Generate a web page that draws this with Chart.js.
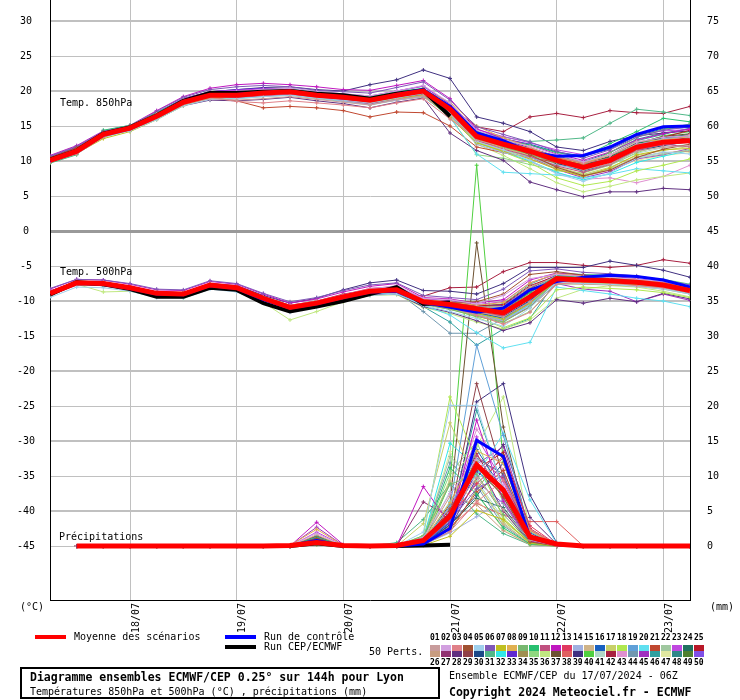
<!DOCTYPE html>
<html>
<head>
<meta charset="utf-8">
<script src="https://cdn.jsdelivr.net/npm/chart.js@4.4.1/dist/chart.umd.min.js"></script>
<style>
body { margin: 0; background: #fff; }
#wrap { position: relative; width: 740px; height: 700px; font-family: 'DejaVu Sans Mono', monospace; color: #000; overflow: hidden; }
#wrap canvas { position: absolute; left: 0; top: 0; }
.t { position: absolute; white-space: nowrap; font-size: 10px; line-height: 12px; }
.b { font-weight: bold; font-size: 11.5px; line-height: 14px; }
.bar { position: absolute; height: 4px; width: 31px; }
.sq { position: absolute; width: 10px; height: 6px; }
.num { position: absolute; font-size: 8px; line-height: 8px; font-weight: bold; }
#box { position: absolute; left: 20px; top: 667px; width: 420px; height: 32px; border: 2px solid #000; box-sizing: border-box; }
</style>
</head>
<body>
<div id="wrap">
  <canvas id="chart" width="740" height="700"></canvas>
  <div class="t" style="left:60px;top:97px">Temp. 850hPa</div>
  <div class="t" style="left:60px;top:266px">Temp. 500hPa</div>
  <div class="t" style="left:59px;top:531px">Précipitations</div>
  <div class="t" style="left:20px;top:601px">(°C)</div>
  <div class="t" style="left:710px;top:601px">(mm)</div>

  <div class="bar" style="left:35px;top:635px;background:#ff0000"></div>
  <div class="t" style="left:74px;top:631px">Moyenne des scénarios</div>
  <div class="bar" style="left:225px;top:635px;background:#0000ff"></div>
  <div class="t" style="left:264px;top:631px">Run de contrôle</div>
  <div class="bar" style="left:225px;top:645px;background:#000"></div>
  <div class="t" style="left:264px;top:641px">Run CEP/ECMWF</div>
  <div class="t" style="left:369px;top:646px">50 Perts.</div>
  <div id="perts"></div>

  <div id="box"></div>
  <div class="t b" style="left:30px;top:670px">Diagramme ensembles ECMWF/CEP 0.25° sur 144h pour Lyon</div>
  <div class="t" style="left:30px;top:686px">Températures 850hPa et 500hPa (°C) , précipitations (mm)</div>
  <div class="t" style="left:449px;top:670px">Ensemble ECMWF/CEP du 17/07/2024 - 06Z</div>
  <div class="t b" style="left:449px;top:685px">Copyright 2024 Meteociel.fr - ECMWF</div>
</div>
<script>
// hours since 17/07 06Z
const hours = [0, 6, 12, 18, 24, 30, 36, 42, 48, 54, 60, 66, 72, 78, 84, 90, 96, 102, 108, 114, 120, 126, 132, 138, 144]
const dayTicks = [18, 42, 66, 90, 114, 138]
const dayLabels = ['18/07', '19/07', '20/07', '21/07', '22/07', '23/07']
const leftTicks = [30, 25, 20, 15, 10, 5, 0, -5, -10, -15, -20, -25, -30, -35, -40, -45]
const rightTicks = [75, 70, 65, 60, 55, 50, 45, 40, 35, 30, 25, 20, 15, 10, 5, 0]

// moyenne / controle / operationnel
const meanT850 = [10.1, 11.4, 13.8, 14.7, 16.4, 18.4, 19.4, 19.4, 19.7, 19.9, 19.4, 19.1, 18.7, 19.4, 20.0, 17.4, 13.5, 12.4, 11.4, 10.1, 9.1, 10.1, 12.0, 12.7, 12.9]
const meanT500 = [-8.9, -7.4, -7.5, -8.1, -8.9, -9.0, -7.7, -8.1, -9.6, -10.9, -10.3, -9.4, -8.6, -8.4, -10.1, -10.5, -11.1, -11.7, -9.4, -6.8, -7.0, -7.1, -7.3, -7.7, -8.5]
const meanPrecip = [null, 0, 0, 0, 0, 0, 0, 0, 0, 0.1, 0.5, 0.1, 0, 0.1, 0.8, 4.3, 11.6, 8.0, 1.3, 0.3, 0, 0, 0, 0, 0]
const ctrlT850 = [10.0, 11.3, 13.7, 14.6, 16.4, 18.5, 19.4, 19.5, 19.8, 20.0, 19.4, 19.0, 18.7, 19.5, 20.2, 17.8, 14.0, 12.9, 11.3, 10.7, 10.8, 12.0, 13.8, 14.9, 15.0]
const ctrlT500 = [-8.8, -7.4, -7.6, -8.2, -9.0, -9.1, -7.8, -8.2, -9.8, -11.0, -10.4, -9.5, -8.7, -8.6, -10.2, -10.9, -11.6, -11.0, -8.4, -7.2, -6.6, -6.3, -6.5, -7.0, -8.0]
const ctrlPrecip = [null, 0, 0, 0, 0, 0, 0, 0, 0, 0.1, 0.8, 0, 0, 0, 0.3, 2.5, 15.1, 12.8, 1.2, 0.2, 0, 0, 0, 0, 0]
const operT850 = [10.2, 11.5, 13.9, 14.8, 16.5, 18.6, 19.7, 19.7, 19.9, 20.0, 19.6, 19.4, 18.9, 19.6, 20.1, 16.4]
const operT500 = [-9.1, -7.3, -7.6, -8.3, -9.4, -9.4, -8.1, -8.4, -10.3, -11.5, -10.8, -10.0, -9.0, -8.0, -10.4, -10.2]
const operPrecip = [null, 0, 0, 0, 0, 0, 0, 0, 0, 0, 0.4, 0, 0, 0, 0.1, 0.2]

const memberColors = [
  '#c89c9c', '#d2a0e0', '#e08088', '#a05030', '#a0d0ec', '#8058b8', '#c0c020', '#e0b050', '#78b870', '#28c070',
  '#c05080', '#c018c0', '#e03860', '#a0b0e0', '#d0b488', '#1860c0', '#c8d068', '#b0e850', '#60a0d8', '#60e0f0',
  '#c04830', '#a0c8a0', '#c048e0', '#207060', '#b81828', '#c89c80', '#903070', '#603080', '#904048', '#1c4888',
  '#50b888', '#30e8e8', '#6028d0', '#a09050', '#90d880', '#c0e880', '#6c5030', '#e06060', '#403080', '#50d040',
  '#b0d8c8', '#a82040', '#e090d0', '#7098b0', '#a030c0', '#30a0a0', '#e0e8a0', '#308888', '#508030', '#8050e8'
]

// 50 perturbations, T850
const membersT850 = [
  [10.3, 11.6, 13.6, 14.5, 16.2, 18.1, 18.9, 18.7, 18.9, 19.2, 18.8, 18.4, 18.0, 18.8, 19.3, 16.6, 13.0, 12.1, 11.2, 9.9, 8.7, 9.6, 11.4, 12.0, 12.2],
  [10.0, 11.3, 13.9, 14.9, 16.7, 18.8, 19.8, 19.9, 20.2, 20.4, 19.9, 19.6, 19.3, 20.0, 20.8, 18.3, 14.4, 13.0, 12.1, 10.9, 9.9, 10.9, 12.7, 13.4, 13.6],
  [9.8, 11.0, 13.4, 14.6, 16.6, 18.6, 19.1, 18.5, 18.3, 18.6, 18.3, 18.0, 17.6, 18.3, 18.9, 16.0, 13.2, 12.6, 11.8, 10.6, 9.7, 10.4, 12.0, 12.6, 13.8],
  [10.5, 11.9, 14.1, 15.0, 16.8, 18.7, 19.6, 19.6, 19.9, 20.0, 19.6, 19.3, 19.0, 19.7, 20.3, 17.9, 13.9, 12.5, 10.9, 9.1, 7.9, 8.7, 10.5, 11.7, 12.4],
  [10.2, 11.5, 13.6, 14.3, 15.9, 17.9, 18.8, 18.9, 19.2, 19.4, 19.0, 18.7, 18.3, 19.0, 19.7, 16.8, 12.8, 11.6, 10.1, 8.2, 7.1, 8.3, 10.4, 11.3, 11.0],
  [10.7, 12.1, 14.2, 15.0, 17.1, 19.1, 20.2, 20.6, 20.8, 20.6, 20.1, 19.9, 19.7, 20.5, 21.3, 18.7, 14.9, 13.8, 12.7, 11.4, 10.4, 11.6, 13.4, 14.4, 14.9],
  [9.8, 11.1, 13.2, 14.2, 15.9, 17.9, 19.0, 19.3, 19.6, 19.8, 19.3, 19.0, 18.4, 18.9, 19.4, 16.2, 12.6, 11.4, 10.3, 8.8, 7.8, 9.0, 10.9, 11.6, 11.8],
  [10.1, 11.4, 13.8, 14.7, 16.3, 18.5, 19.3, 19.4, 19.7, 19.8, 19.3, 18.9, 18.8, 19.5, 20.2, 18.4, 15.0, 13.3, 12.0, 10.4, 9.6, 10.9, 12.8, 13.0, 13.5],
  [10.0, 11.3, 13.9, 14.9, 16.6, 18.6, 19.6, 19.6, 19.9, 20.1, 19.5, 19.2, 18.9, 19.6, 20.1, 17.2, 13.4, 12.0, 11.0, 9.8, 9.4, 11.2, 13.4, 14.5, 15.3],
  [9.7, 10.9, 14.4, 15.1, 16.9, 18.8, 19.7, 19.8, 20.0, 20.3, 19.9, 19.5, 19.2, 19.9, 20.4, 17.6, 13.8, 12.9, 12.3, 11.2, 10.6, 12.5, 14.2, 16.1, 15.6],
  [10.4, 11.7, 13.9, 14.6, 16.4, 18.3, 19.2, 19.1, 19.3, 19.5, 19.1, 18.7, 18.2, 18.9, 19.5, 16.9, 12.9, 11.7, 10.7, 9.3, 8.4, 9.5, 11.5, 12.4, 12.0],
  [10.8, 12.2, 14.3, 15.1, 17.2, 19.2, 20.4, 20.9, 21.1, 20.9, 20.6, 20.2, 20.1, 20.8, 21.5, 18.9, 14.6, 13.2, 12.3, 11.0, 10.1, 11.3, 13.0, 13.9, 14.6],
  [10.2, 11.6, 14.0, 14.8, 16.5, 18.4, 19.3, 19.2, 19.6, 19.7, 19.2, 18.9, 18.5, 19.3, 19.9, 17.4, 13.6, 12.5, 11.6, 10.2, 9.0, 10.0, 11.8, 12.3, 12.7],
  [9.9, 11.2, 13.5, 14.4, 16.1, 18.1, 19.2, 19.1, 19.4, 19.6, 19.1, 18.6, 18.1, 18.7, 19.3, 16.5, 12.4, 11.2, 10.5, 9.4, 8.9, 10.3, 12.3, 13.2, 13.4],
  [10.3, 11.6, 13.8, 14.8, 16.5, 18.5, 19.5, 19.5, 19.8, 20.1, 19.6, 19.3, 18.9, 19.6, 20.2, 17.5, 13.6, 12.7, 11.8, 10.6, 9.8, 10.8, 12.4, 12.9, 13.1],
  [10.0, 11.3, 13.7, 14.6, 16.3, 18.3, 19.3, 19.3, 19.6, 19.8, 19.3, 19.0, 18.6, 19.4, 20.0, 17.8, 14.1, 13.2, 12.4, 11.3, 10.7, 11.7, 13.6, 14.6, 14.8],
  [10.1, 11.4, 13.6, 14.5, 16.2, 18.2, 19.2, 19.3, 19.6, 19.9, 19.4, 19.1, 18.6, 19.3, 19.9, 17.1, 13.2, 11.9, 10.8, 9.2, 8.1, 9.1, 10.8, 11.5, 12.1],
  [10.2, 11.5, 13.8, 14.6, 16.3, 18.3, 19.4, 19.5, 19.8, 20.0, 19.5, 19.2, 18.8, 19.4, 19.8, 16.7, 12.7, 11.3, 9.8, 7.6, 6.5, 7.1, 8.6, 9.4, 10.3],
  [10.4, 11.8, 14.1, 14.9, 16.7, 18.6, 19.5, 19.4, 19.7, 19.9, 19.4, 19.0, 18.7, 19.5, 20.2, 17.7, 13.8, 12.6, 11.5, 10.3, 9.3, 10.2, 12.1, 13.1, 13.6],
  [10.0, 11.2, 13.6, 14.5, 16.2, 18.2, 19.1, 19.0, 19.3, 19.5, 19.0, 18.6, 18.2, 18.8, 19.3, 16.2, 11.0, 8.4, 8.2, 8.0, 7.6, 8.1, 8.9, 8.6, 8.3],
  [10.3, 11.6, 13.9, 14.8, 16.6, 18.5, 19.1, 18.6, 17.6, 17.8, 17.6, 17.2, 16.3, 17.0, 16.9, 15.0, 12.0, 11.2, 10.5, 9.8, 9.0, 9.8, 11.6, 12.4, 13.0],
  [9.9, 11.1, 13.5, 14.4, 16.1, 18.0, 18.9, 18.9, 19.2, 19.4, 18.9, 18.5, 18.0, 18.7, 19.2, 16.4, 12.7, 11.6, 10.6, 9.1, 8.0, 8.9, 10.4, 11.0, 11.6],
  [10.5, 11.9, 14.2, 15.0, 16.8, 18.9, 19.9, 20.1, 20.3, 20.4, 19.9, 19.6, 19.3, 20.0, 20.7, 18.2, 14.5, 13.5, 12.6, 11.6, 10.9, 12.0, 13.8, 14.3, 14.5],
  [10.1, 11.4, 13.8, 14.7, 16.4, 18.4, 19.4, 19.3, 19.6, 19.8, 19.2, 18.9, 18.5, 19.2, 19.8, 17.0, 13.1, 12.2, 11.3, 10.1, 9.4, 10.6, 12.5, 13.3, 13.8],
  [10.2, 11.5, 13.7, 14.6, 16.3, 18.3, 19.2, 19.2, 19.4, 19.7, 19.3, 19.0, 18.7, 19.5, 20.1, 17.6, 14.0, 12.8, 11.7, 10.5, 9.5, 10.4, 12.2, 13.4, 14.4],
  [10.0, 11.3, 13.8, 14.7, 16.4, 18.4, 19.4, 19.5, 19.8, 20.0, 19.5, 19.1, 18.7, 19.3, 19.8, 16.8, 12.8, 11.5, 10.3, 8.9, 7.8, 8.8, 10.6, 11.2, 11.4],
  [10.3, 11.6, 13.9, 14.8, 16.5, 18.5, 19.4, 19.4, 19.7, 19.8, 19.4, 19.1, 18.7, 19.4, 19.9, 17.3, 13.5, 12.4, 11.4, 10.0, 9.0, 10.1, 12.0, 12.6, 13.2],
  [9.9, 11.2, 13.5, 14.4, 16.0, 17.9, 18.7, 18.6, 18.8, 19.1, 18.6, 18.2, 17.6, 18.4, 19.0, 14.0, 11.5, 10.1, 7.0, 5.9, 4.9, 5.6, 5.6, 6.1, 5.9],
  [10.4, 11.8, 14.0, 14.9, 16.7, 18.7, 19.6, 19.6, 19.9, 20.0, 19.5, 19.2, 18.9, 19.6, 20.2, 17.7, 13.9, 12.8, 11.8, 10.6, 9.6, 10.5, 12.3, 13.0, 13.3],
  [10.1, 11.4, 13.7, 14.6, 16.3, 18.3, 19.3, 19.3, 19.6, 19.8, 19.4, 19.1, 18.7, 19.4, 20.0, 17.4, 13.4, 12.3, 11.2, 9.7, 8.6, 9.6, 11.5, 12.2, 12.8],
  [10.2, 11.5, 13.9, 14.8, 16.5, 18.4, 19.5, 19.6, 19.8, 20.0, 19.6, 19.3, 18.9, 19.5, 20.0, 17.5, 14.2, 13.4, 12.8, 13.0, 13.3, 15.4, 17.4, 17.0, 16.5],
  [9.8, 11.0, 13.4, 14.4, 16.1, 18.1, 19.1, 19.0, 19.3, 19.6, 19.1, 18.7, 18.3, 19.0, 19.6, 16.6, 12.6, 11.3, 10.0, 8.4, 7.3, 8.2, 9.8, 10.7, 11.5],
  [10.6, 12.0, 14.1, 14.9, 16.9, 18.9, 19.9, 20.2, 20.4, 20.3, 19.8, 19.5, 19.2, 20.0, 20.7, 18.1, 14.2, 13.0, 11.9, 10.6, 9.4, 10.3, 11.9, 12.8, 13.4],
  [10.0, 11.3, 13.6, 14.5, 16.2, 18.2, 19.2, 19.2, 19.5, 19.7, 19.2, 18.8, 18.4, 19.1, 19.7, 17.0, 13.1, 12.0, 11.0, 9.6, 8.8, 9.9, 11.7, 12.6, 13.1],
  [10.2, 11.5, 13.8, 14.7, 16.4, 18.4, 19.3, 19.3, 19.6, 19.8, 19.2, 18.8, 18.3, 18.9, 19.4, 16.3, 10.9, 10.4, 9.5, 8.6, 8.3, 9.4, 11.2, 12.3, 12.9],
  [10.1, 11.4, 13.7, 14.6, 16.2, 18.2, 19.1, 19.1, 19.4, 19.6, 19.1, 18.7, 18.2, 18.9, 19.4, 16.5, 12.4, 10.8, 8.9, 6.9, 5.6, 6.4, 7.3, 7.8, 8.3],
  [10.3, 11.7, 13.9, 14.8, 16.6, 18.6, 19.5, 19.5, 19.8, 20.0, 19.5, 19.2, 18.8, 19.5, 20.1, 17.6, 13.7, 12.5, 11.5, 10.3, 9.5, 10.7, 12.6, 13.5, 13.9],
  [10.0, 11.2, 13.6, 14.5, 16.2, 18.2, 19.2, 19.1, 19.4, 19.6, 19.1, 18.6, 18.1, 18.7, 19.2, 16.4, 12.9, 11.9, 11.0, 9.9, 9.1, 10.3, 12.2, 13.1, 13.7],
  [10.5, 11.9, 14.2, 15.0, 16.9, 18.9, 19.9, 20.2, 20.5, 20.6, 20.2, 20.0, 20.9, 21.6, 23.0, 21.8, 16.3, 15.4, 14.2, 12.0, 11.5, 12.8, 13.6, 14.0, 14.3],
  [10.1, 11.4, 13.8, 14.7, 16.4, 18.4, 19.4, 19.4, 19.7, 19.9, 19.4, 19.1, 18.7, 19.4, 20.0, 17.3, 13.3, 12.2, 11.3, 10.0, 9.2, 10.4, 12.4, 13.6, 14.2],
  [9.9, 11.1, 13.5, 14.5, 16.2, 18.1, 19.1, 19.1, 19.4, 19.6, 19.1, 18.8, 18.4, 19.1, 19.7, 16.9, 13.0, 11.8, 10.9, 9.5, 8.5, 9.4, 11.1, 11.9, 12.4],
  [10.3, 11.6, 13.9, 14.8, 16.5, 18.5, 19.4, 19.4, 19.7, 19.9, 19.4, 19.1, 18.8, 19.5, 20.1, 17.8, 14.9, 14.2, 16.3, 16.8, 16.2, 17.2, 16.9, 16.8, 17.8],
  [10.2, 11.5, 13.8, 14.7, 16.4, 18.4, 19.3, 19.3, 19.5, 19.7, 19.2, 18.9, 18.4, 19.1, 19.7, 16.8, 12.8, 11.4, 9.9, 8.3, 7.4, 7.6, 6.9, 7.8, 9.4],
  [10.1, 11.4, 13.7, 14.6, 16.3, 18.3, 19.3, 19.3, 19.6, 19.8, 19.4, 19.0, 18.6, 19.3, 19.9, 17.2, 13.5, 12.4, 11.5, 10.2, 9.3, 10.2, 11.9, 12.7, 13.1],
  [10.4, 11.8, 14.0, 14.9, 16.7, 18.7, 19.6, 19.7, 19.9, 20.1, 19.6, 19.3, 19.0, 19.7, 20.3, 17.8, 13.6, 12.1, 10.6, 8.8, 7.6, 8.5, 10.3, 10.9, 11.8],
  [9.9, 11.2, 13.6, 14.6, 16.3, 18.3, 19.3, 19.2, 19.5, 19.7, 19.3, 18.9, 18.5, 19.2, 19.8, 17.1, 13.4, 12.5, 11.6, 10.5, 9.7, 10.9, 12.9, 13.8, 14.7],
  [10.0, 11.3, 13.7, 14.6, 16.3, 18.3, 19.2, 19.2, 19.5, 19.7, 19.2, 18.8, 18.4, 19.1, 19.6, 16.7, 12.6, 11.6, 10.5, 9.0, 7.8, 8.7, 10.1, 10.8, 11.2],
  [10.3, 11.6, 13.9, 14.8, 16.5, 18.5, 19.4, 19.5, 19.8, 19.9, 19.5, 19.2, 18.8, 19.5, 20.1, 17.5, 13.7, 12.7, 11.8, 10.7, 9.9, 11.2, 13.1, 14.0, 14.6],
  [10.2, 11.5, 13.8, 14.7, 16.4, 18.4, 19.3, 19.3, 19.6, 19.8, 19.3, 19.0, 18.6, 19.3, 19.9, 17.3, 13.3, 12.3, 11.3, 10.0, 9.1, 10.1, 11.8, 12.5, 13.0],
  [10.1, 11.4, 13.7, 14.7, 16.4, 18.4, 19.4, 19.4, 19.7, 20.0, 19.5, 19.2, 18.8, 19.5, 20.1, 17.6, 13.9, 12.7, 11.7, 10.4, 9.5, 10.6, 12.5, 13.2, 13.6]
]

// 50 perturbations, T500
const membersT500 = [
  [-8.7, -7.3, -7.4, -8.0, -8.8, -9.0, -7.6, -8.0, -9.5, -10.8, -10.2, -9.3, -8.5, -8.3, -10.0, -10.6, -11.5, -12.3, -10.1, -6.9, -6.8, -7.0, -7.2, -7.8, -8.6],
  [-9.0, -7.5, -7.6, -8.2, -9.0, -9.1, -7.8, -8.2, -9.7, -11.0, -10.4, -9.4, -8.3, -7.8, -9.6, -9.8, -10.4, -9.2, -6.8, -6.2, -6.5, -6.6, -6.9, -7.2, -8.0],
  [-8.6, -7.2, -7.3, -7.9, -8.7, -8.8, -7.5, -7.9, -9.4, -10.6, -10.0, -9.1, -8.2, -8.0, -9.8, -10.9, -12.0, -13.3, -11.6, -7.6, -7.2, -7.4, -7.8, -8.1, -8.8],
  [-8.8, -7.4, -7.5, -8.1, -8.9, -9.0, -7.7, -8.1, -9.6, -10.9, -10.3, -9.4, -8.7, -8.5, -10.3, -10.2, -10.1, -9.0, -6.2, -5.8, -6.3, -6.8, -7.2, -7.6, -8.3],
  [-9.5, -8.0, -8.1, -8.6, -9.5, -9.6, -8.3, -8.7, -10.2, -11.6, -10.9, -10.0, -9.2, -9.0, -10.6, -11.5, -12.5, -13.6, -11.0, -7.3, -7.5, -7.6, -7.9, -8.3, -9.0],
  [-8.2, -6.9, -7.0, -7.5, -8.3, -8.4, -7.1, -7.5, -8.9, -10.1, -9.5, -8.5, -7.7, -7.4, -9.2, -9.5, -9.8, -8.3, -5.7, -5.4, -5.9, -6.1, -6.4, -7.0, -7.7],
  [-8.9, -7.5, -7.6, -8.2, -9.0, -9.1, -7.7, -8.1, -9.6, -11.0, -10.4, -9.5, -8.7, -8.6, -10.4, -11.0, -11.8, -12.6, -10.3, -7.1, -7.3, -7.5, -7.6, -7.9, -8.6],
  [-8.8, -7.4, -7.4, -8.0, -8.8, -8.9, -7.6, -8.0, -9.5, -10.8, -10.2, -9.3, -8.4, -8.1, -9.8, -10.1, -10.6, -10.2, -7.4, -6.1, -6.4, -6.6, -6.9, -7.4, -8.2],
  [-9.1, -7.6, -7.7, -8.3, -9.1, -9.2, -7.8, -8.2, -9.7, -11.1, -10.5, -9.6, -8.8, -8.7, -10.5, -11.2, -12.2, -13.0, -10.8, -7.0, -7.1, -7.3, -7.5, -7.9, -8.5],
  [-8.7, -7.3, -7.4, -8.0, -8.8, -8.9, -7.6, -8.0, -9.5, -10.8, -10.1, -9.2, -8.4, -8.2, -9.9, -10.4, -11.0, -11.4, -8.8, -6.4, -6.6, -6.8, -7.0, -7.5, -8.3],
  [-9.0, -7.5, -7.6, -8.2, -9.0, -9.0, -7.7, -8.1, -9.6, -10.9, -10.3, -9.4, -8.6, -8.4, -10.2, -10.8, -11.6, -12.1, -9.6, -6.9, -7.0, -7.2, -7.5, -8.0, -8.8],
  [-8.3, -6.9, -7.0, -7.6, -8.4, -8.5, -7.2, -7.6, -9.0, -10.3, -9.7, -8.7, -7.9, -7.5, -9.5, -9.7, -10.3, -9.8, -7.0, -6.0, -6.3, -6.5, -6.8, -7.3, -8.1],
  [-9.0, -7.5, -7.6, -8.2, -9.0, -9.1, -7.8, -8.2, -9.7, -11.0, -10.4, -9.5, -8.7, -8.5, -10.2, -10.7, -11.3, -11.9, -9.3, -6.7, -6.9, -7.0, -7.2, -7.6, -8.4],
  [-8.8, -7.4, -7.5, -8.1, -8.9, -9.0, -7.7, -8.1, -9.6, -10.9, -10.3, -9.4, -8.6, -8.4, -10.1, -10.9, -11.9, -12.8, -10.6, -7.2, -7.4, -7.3, -7.5, -7.9, -8.7],
  [-8.9, -7.4, -7.5, -8.1, -8.9, -9.0, -7.7, -8.1, -9.6, -10.9, -10.2, -9.3, -8.5, -8.3, -10.0, -10.3, -10.9, -10.8, -8.0, -6.5, -6.7, -6.9, -7.1, -7.5, -8.2],
  [-9.1, -7.6, -7.7, -8.3, -9.1, -9.2, -7.9, -8.3, -9.8, -11.1, -10.5, -9.6, -8.8, -8.6, -10.3, -10.9, -11.7, -12.4, -10.0, -7.0, -7.1, -7.2, -7.4, -7.8, -8.5],
  [-8.7, -7.3, -7.4, -8.0, -8.8, -8.9, -7.6, -8.0, -9.5, -10.8, -10.2, -9.3, -8.5, -8.3, -10.1, -10.6, -11.2, -11.5, -9.0, -6.6, -6.8, -7.0, -7.3, -7.7, -8.4],
  [-8.9, -7.5, -7.5, -8.1, -8.9, -9.0, -7.7, -8.1, -9.6, -10.9, -10.3, -9.4, -8.6, -8.5, -10.3, -11.1, -12.3, -13.8, -12.4, -8.4, -8.0, -8.2, -8.4, -8.8, -9.5],
  [-8.8, -7.4, -7.5, -8.1, -8.9, -9.0, -7.7, -8.0, -9.5, -10.8, -10.2, -9.3, -8.5, -8.2, -9.9, -10.3, -10.8, -11.0, -8.5, -6.3, -6.5, -6.7, -7.0, -7.4, -8.1],
  [-9.0, -7.5, -7.6, -8.2, -9.0, -9.1, -7.8, -8.2, -9.7, -11.1, -10.5, -9.6, -8.9, -8.8, -10.6, -12.0, -14.5, -16.7, -15.9, -8.0, -8.5, -9.0, -9.6, -10.0, -10.8],
  [-8.7, -7.3, -7.4, -8.0, -8.8, -8.9, -7.6, -8.0, -9.5, -10.8, -10.2, -9.3, -8.5, -8.3, -10.0, -10.5, -11.1, -11.6, -9.2, -6.7, -6.9, -7.1, -7.4, -7.8, -8.6],
  [-9.0, -7.5, -7.6, -8.2, -9.0, -9.1, -7.7, -8.1, -9.6, -10.9, -10.3, -9.4, -8.6, -8.4, -10.2, -10.7, -11.4, -12.0, -9.7, -6.9, -7.0, -7.2, -7.4, -7.8, -8.5],
  [-8.6, -7.2, -7.3, -7.9, -8.7, -8.8, -7.5, -7.9, -9.4, -10.7, -10.1, -9.1, -8.2, -7.9, -9.7, -10.0, -10.5, -10.1, -7.4, -6.2, -6.4, -6.6, -6.9, -7.3, -8.0],
  [-8.9, -7.4, -7.5, -8.1, -8.9, -9.0, -7.7, -8.1, -9.6, -10.9, -10.3, -9.4, -8.6, -8.4, -10.1, -10.6, -11.3, -11.8, -9.4, -6.8, -7.0, -7.1, -7.3, -7.7, -8.5],
  [-8.8, -7.4, -7.5, -8.1, -8.9, -9.0, -7.7, -8.1, -9.5, -10.8, -10.2, -9.3, -8.5, -8.2, -9.9, -10.2, -10.7, -10.5, -7.8, -6.4, -6.6, -6.8, -7.1, -7.5, -8.3],
  [-9.1, -7.6, -7.7, -8.3, -9.1, -9.2, -7.8, -8.2, -9.7, -11.0, -10.4, -9.5, -8.7, -8.6, -10.4, -11.2, -12.0, -12.9, -10.9, -7.5, -7.6, -7.7, -7.9, -8.3, -9.0],
  [-8.9, -7.4, -7.5, -8.1, -8.9, -9.0, -7.7, -8.1, -9.6, -10.9, -10.3, -9.4, -8.6, -8.4, -10.1, -10.5, -11.0, -11.2, -8.6, -6.5, -6.7, -6.9, -7.2, -7.6, -8.4],
  [-9.2, -7.7, -7.8, -8.4, -9.2, -9.3, -8.0, -8.4, -9.9, -11.3, -10.7, -9.8, -9.1, -9.0, -10.8, -11.6, -12.8, -14.2, -13.1, -9.8, -10.3, -9.6, -10.1, -8.9, -9.7],
  [-8.7, -7.3, -7.4, -8.0, -8.8, -8.9, -7.6, -8.0, -9.5, -10.8, -10.2, -9.2, -8.4, -8.1, -9.8, -10.2, -10.8, -10.9, -8.2, -6.4, -6.6, -6.8, -7.1, -7.5, -8.2],
  [-9.0, -7.5, -7.6, -8.2, -9.0, -9.1, -7.8, -8.2, -9.7, -11.0, -10.4, -9.5, -8.7, -8.5, -10.3, -10.8, -11.5, -12.2, -9.9, -6.9, -7.1, -7.2, -7.4, -7.8, -8.6],
  [-8.8, -7.4, -7.5, -8.1, -8.9, -9.0, -7.7, -8.1, -9.6, -10.9, -10.3, -9.3, -8.5, -8.3, -10.0, -10.4, -10.8, -10.4, -7.6, -6.0, -6.2, -6.3, -6.5, -6.9, -7.6],
  [-9.0, -7.5, -7.6, -8.2, -9.0, -9.1, -7.8, -8.2, -9.7, -11.0, -10.4, -9.5, -8.7, -8.6, -10.4, -11.0, -11.9, -12.7, -10.5, -7.1, -7.3, -7.4, -7.7, -8.1, -8.9],
  [-8.6, -7.2, -7.3, -7.9, -8.7, -8.8, -7.5, -7.9, -9.4, -10.7, -10.1, -9.1, -8.3, -8.0, -9.7, -10.0, -10.6, -10.6, -8.0, -6.3, -6.5, -6.7, -7.0, -7.4, -8.1],
  [-8.9, -7.4, -7.5, -8.1, -8.9, -9.0, -7.7, -8.1, -9.6, -10.9, -10.3, -9.4, -8.6, -8.4, -10.2, -10.7, -11.4, -12.0, -9.5, -6.8, -7.0, -7.1, -7.3, -7.7, -8.5],
  [-8.8, -7.4, -7.5, -8.1, -8.9, -9.0, -7.7, -8.1, -9.6, -10.9, -10.3, -9.4, -8.6, -8.5, -10.3, -11.0, -12.1, -13.2, -11.5, -7.6, -7.5, -7.6, -7.8, -8.1, -8.8],
  [-9.1, -7.6, -8.7, -8.6, -9.4, -9.6, -8.1, -8.6, -10.2, -12.7, -11.5, -10.1, -9.2, -9.1, -10.9, -11.8, -13.0, -14.0, -12.7, -9.6, -8.3, -7.8, -8.0, -8.6, -9.4],
  [-8.9, -7.4, -7.5, -8.1, -8.9, -9.0, -7.7, -8.1, -9.6, -10.9, -10.3, -9.4, -8.6, -8.4, -10.1, -10.4, -10.9, -11.1, -8.7, -6.6, -6.8, -6.9, -7.2, -7.6, -8.3],
  [-8.7, -7.3, -7.4, -8.0, -8.8, -8.9, -7.6, -8.0, -9.5, -10.8, -10.2, -9.3, -8.5, -8.3, -10.0, -10.6, -11.4, -12.2, -10.2, -7.0, -7.1, -7.3, -7.5, -7.9, -8.7],
  [-8.6, -7.2, -7.3, -7.9, -8.7, -8.8, -7.5, -7.8, -9.2, -10.3, -9.6, -8.4, -7.4, -7.0, -8.5, -8.6, -9.0, -7.5, -5.2, -5.2, -5.2, -4.3, -4.9, -5.6, -6.6],
  [-9.0, -7.5, -7.6, -8.2, -9.0, -9.1, -7.8, -8.2, -9.7, -11.0, -10.4, -9.5, -8.7, -8.5, -10.3, -10.8, -11.6, -12.4, -10.0, -7.0, -7.2, -7.3, -7.5, -7.9, -8.6],
  [-8.8, -7.4, -7.5, -8.1, -8.9, -9.0, -7.7, -8.1, -9.6, -10.9, -10.3, -9.4, -8.6, -8.4, -10.2, -10.6, -11.2, -11.6, -9.1, -6.7, -6.9, -7.1, -7.3, -7.7, -8.5],
  [-8.8, -7.3, -7.4, -8.0, -8.8, -8.9, -7.6, -8.0, -9.4, -10.6, -10.0, -9.0, -8.4, -8.8, -9.3, -8.1, -8.0, -5.8, -4.5, -4.5, -4.9, -5.2, -4.9, -4.1, -4.6],
  [-8.9, -7.4, -7.5, -8.1, -8.9, -9.0, -7.7, -8.1, -9.6, -10.9, -10.3, -9.4, -8.6, -8.4, -10.2, -10.9, -11.8, -12.6, -10.4, -7.1, -7.2, -7.4, -7.6, -8.0, -8.7],
  [-9.0, -7.5, -7.6, -8.2, -9.0, -9.1, -7.8, -8.2, -9.7, -11.0, -10.4, -9.5, -8.8, -8.7, -11.5, -14.6, -14.6, -12.5, -10.5, -6.5, -6.8, -7.0, -7.3, -7.8, -8.6],
  [-8.9, -7.4, -7.5, -8.1, -8.9, -9.0, -7.7, -8.1, -9.6, -10.9, -10.3, -9.4, -8.6, -8.5, -10.3, -11.0, -11.9, -12.8, -10.8, -7.5, -8.3, -8.6, -10.1, -9.0, -9.9],
  [-9.1, -7.6, -7.7, -8.3, -9.1, -9.2, -7.9, -8.3, -9.8, -11.1, -10.5, -9.6, -8.9, -8.8, -10.8, -13.0, -16.3, -14.0, -12.5, -7.0, -7.2, -7.4, -7.6, -8.0, -8.8],
  [-8.8, -7.4, -7.5, -8.1, -8.9, -9.0, -7.7, -8.1, -9.6, -10.9, -10.3, -9.4, -8.6, -8.4, -10.1, -10.5, -11.1, -11.4, -8.9, -6.6, -6.8, -7.0, -7.2, -7.6, -8.4],
  [-8.9, -7.4, -7.5, -8.1, -8.9, -9.0, -7.7, -8.1, -9.6, -10.9, -10.3, -9.4, -8.5, -8.3, -10.0, -10.3, -10.7, -10.7, -8.1, -6.4, -6.6, -6.8, -7.0, -7.4, -8.2],
  [-9.0, -7.5, -7.6, -8.2, -9.0, -9.1, -7.8, -8.2, -9.7, -11.0, -10.4, -9.5, -8.7, -8.6, -10.3, -10.9, -11.7, -12.5, -10.3, -7.1, -7.2, -7.3, -7.5, -7.9, -8.6],
  [-8.7, -7.3, -7.4, -8.0, -8.8, -8.9, -7.6, -8.0, -9.5, -10.8, -10.2, -9.3, -8.5, -8.3, -10.0, -10.5, -11.0, -11.3, -8.8, -6.6, -6.8, -7.0, -7.2, -7.6, -8.4]
]

// 50 perturbations, precipitations (mm / 6h)
const membersPrecip = [
  [null, 0, 0, 0, 0, 0, 0, 0, 0, 0, 0.6, 0, 0, 0, 0.4, 4.5, 9.8, 5.2, 0.9, 0, 0, 0, 0, 0, 0],
  [null, 0, 0, 0, 0, 0, 0, 0, 0, 0.1, 1.8, 0.1, 0, 0, 1.2, 7.5, 12.4, 8.7, 1.1, 0.2, 0, 0, 0, 0, 0],
  [null, 0, 0, 0, 0, 0, 0, 0, 0, 0, 0.3, 0, 0, 0, 0.2, 2.1, 6.3, 9.4, 2.4, 0.3, 0, 0, 0, 0, 0],
  [null, 0, 0, 0, 0, 0, 0, 0, 0, 0, 1.1, 0, 0, 0, 0.6, 5.3, 11.5, 7.0, 0.6, 0, 0, 0, 0, 0, 0],
  [null, 0, 0, 0, 0, 0, 0, 0, 0, 0, 0.5, 0, 0, 0, 2.0, 20.1, 20.1, 7.8, 1.0, 0, 0, 0, 0, 0, 0],
  [null, 0, 0, 0, 0, 0, 0, 0, 0, 0, 0.9, 0, 0, 0, 0.3, 3.6, 8.2, 10.1, 1.5, 0.1, 0, 0, 0, 0, 0],
  [null, 0, 0, 0, 0, 0, 0, 0, 0, 0, 0.2, 0, 0, 0, 0.1, 1.4, 5.1, 3.8, 0.4, 0, 0, 0, 0, 0, 0],
  [null, 0, 0, 0, 0, 0, 0, 0, 0, 0.1, 2.4, 0.1, 0, 0, 0.8, 6.2, 13.6, 11.8, 2.2, 0.2, 0, 0, 0, 0, 0],
  [null, 0, 0, 0, 0, 0, 0, 0, 0, 0, 0.4, 0, 0, 0, 1.5, 8.8, 10.3, 4.5, 0.5, 0, 0, 0, 0, 0, 0],
  [null, 0, 0, 0, 0, 0, 0, 0, 0, 0, 1.3, 0, 0, 0, 0.9, 11.2, 7.4, 2.6, 0.3, 0, 0, 0, 0, 0, 0],
  [null, 0, 0, 0, 0, 0, 0, 0, 0, 0, 0.7, 0, 0, 0, 0.3, 2.8, 12.9, 9.6, 1.2, 0, 0, 0, 0, 0, 0],
  [null, 0, 0, 0, 0, 0, 0, 0, 0, 0, 3.4, 0.2, 0, 0, 8.5, 3.1, 18.0, 6.4, 0.7, 0, 0, 0, 0, 0, 0],
  [null, 0, 0, 0, 0, 0, 0, 0, 0, 0, 0.5, 0, 0, 0, 0.4, 4.1, 8.9, 12.6, 2.9, 0.2, 0, 0, 0, 0, 0],
  [null, 0, 0, 0, 0, 0, 0, 0, 0, 0, 0.2, 0, 0, 0, 0.2, 1.9, 4.2, 6.7, 0.8, 0, 0, 0, 0, 0, 0],
  [null, 0, 0, 0, 0, 0, 0, 0, 0, 0, 1.6, 0, 0, 0, 0.7, 9.3, 6.5, 3.1, 0.4, 0, 0, 0, 0, 0, 0],
  [null, 0, 0, 0, 0, 0, 0, 0, 0, 0, 0.9, 0, 0, 0, 0.2, 3.4, 13.8, 7.9, 1.0, 0, 0, 0, 0, 0, 0],
  [null, 0, 0, 0, 0, 0, 0, 0, 0, 0, 0.4, 0, 0, 0, 3.2, 17.6, 9.1, 3.5, 0.6, 0, 0, 0, 0, 0, 0],
  [null, 0, 0, 0, 0, 0, 0, 0, 0, 0, 0.3, 0, 0, 0, 1.5, 21.3, 12.2, 4.0, 0.5, 0, 0, 0, 0, 0, 0],
  [null, 0, 0, 0, 0, 0, 0, 0, 0, 0, 0.8, 0, 0, 0, 0.6, 5.7, 28.7, 15.8, 2.0, 0.1, 0, 0, 0, 0, 0],
  [null, 0, 0, 0, 0, 0, 0, 0, 0, 0, 0.2, 0, 0, 0, 0.4, 6.4, 10.1, 16.1, 6.6, 0.4, 0, 0, 0, 0, 0],
  [null, 0, 0, 0, 0, 0, 0, 0, 0, 0, 1.0, 0, 0, 0, 0.3, 2.4, 7.7, 10.8, 1.6, 0, 0, 0, 0, 0, 0],
  [null, 0, 0, 0, 0, 0, 0, 0, 0, 0, 0.6, 0, 0, 0, 1.0, 12.8, 9.0, 3.3, 0.3, 0, 0, 0, 0, 0, 0],
  [null, 0, 0, 0, 0, 0, 0, 0, 0, 0, 2.0, 0.1, 0, 0, 0.5, 4.8, 15.6, 9.2, 1.1, 0, 0, 0, 0, 0, 0],
  [null, 0, 0, 0, 0, 0, 0, 0, 0, 0, 0.4, 0, 0, 0, 0.2, 3.0, 6.8, 5.5, 0.7, 0, 0, 0, 0, 0, 0],
  [null, 0, 0, 0, 0, 0, 0, 0, 0, 0, 0.7, 0, 0, 0, 0.4, 3.9, 11.0, 13.4, 2.5, 0.2, 0, 0, 0, 0, 0],
  [null, 0, 0, 0, 0, 0, 0, 0, 0, 0, 0.3, 0, 0, 0, 0.8, 7.1, 5.9, 2.2, 0.2, 0, 0, 0, 0, 0, 0],
  [null, 0, 0, 0, 0, 0, 0, 0, 0, 0, 1.4, 0, 0, 0, 6.3, 4.2, 12.1, 5.0, 0.5, 0, 0, 0, 0, 0, 0],
  [null, 0, 0, 0, 0, 0, 0, 0, 0, 0, 0.5, 0, 0, 0, 0.3, 2.6, 9.7, 14.5, 4.1, 0.3, 0, 0, 0, 0, 0],
  [null, 0, 0, 0, 0, 0, 0, 0, 0, 0, 0.9, 0, 0, 0, 0.6, 4.4, 23.2, 9.8, 1.3, 0, 0, 0, 0, 0, 0],
  [null, 0, 0, 0, 0, 0, 0, 0, 0, 0, 0.2, 0, 0, 0, 0.3, 3.1, 7.2, 11.9, 1.9, 0, 0, 0, 0, 0, 0],
  [null, 0, 0, 0, 0, 0, 0, 0, 0, 0, 0.6, 0, 0, 0.5, 3.8, 8.9, 4.6, 1.8, 0.2, 0, 0, 0, 0, 0, 0],
  [null, 0, 0, 0, 0, 0, 0, 0, 0, 0, 0.4, 0, 0, 0, 1.1, 14.7, 11.3, 5.1, 0.6, 0, 0, 0, 0, 0, 0],
  [null, 0, 0, 0, 0, 0, 0, 0, 0, 0, 1.2, 0, 0, 0, 0.4, 3.3, 10.6, 8.3, 0.9, 0, 0, 0, 0, 0, 0],
  [null, 0, 0, 0, 0, 0, 0, 0, 0, 0, 0.3, 0, 0, 0, 0.2, 2.0, 8.1, 13.0, 1.4, 0, 0, 0, 0, 0, 0],
  [null, 0, 0, 0, 0, 0, 0, 0, 0, 0, 0.8, 0, 0, 0, 0.9, 10.4, 14.9, 6.2, 0.8, 0, 0, 0, 0, 0, 0],
  [null, 0, 0, 0, 0, 0, 0, 0, 0, 0, 0.5, 0, 0, 0, 0.7, 9.6, 14.2, 21.3, 2.1, 0, 0, 0, 0, 0, 0],
  [null, 0, 0, 0, 0, 0, 0, 0, 0, 0, 0.6, 0, 0, 0, 0.5, 6.0, 43.3, 17.0, 1.5, 0, 0, 0, 0, 0, 0],
  [null, 0, 0, 0, 0, 0, 0, 0, 0, 0, 0.4, 0, 0, 0, 0.3, 2.7, 6.1, 4.4, 3.5, 3.5, 0, 0, 0, 0, 0],
  [null, 0, 0, 0, 0, 0, 0, 0, 0, 0, 0.7, 0, 0, 0, 0.4, 3.0, 20.6, 23.2, 7.3, 0.5, 0, 0, 0, 0, 0],
  [null, 0, 0, 0, 0, 0, 0, 0, 0, 0, 0.9, 0, 0, 0, 0.3, 9.0, 54.4, 12.0, 1.0, 0, 0, 0, 0, 0, 0],
  [null, 0, 0, 0, 0, 0, 0, 0, 0, 0, 0.3, 0, 0, 0, 0.5, 7.8, 9.4, 3.9, 0.4, 0, 0, 0, 0, 0, 0],
  [null, 0, 0, 0, 0, 0, 0, 0, 0, 0, 1.5, 0, 0, 0, 0.8, 4.9, 13.2, 6.8, 0.6, 0, 0, 0, 0, 0, 0],
  [null, 0, 0, 0, 0, 0, 0, 0, 0, 0, 0.6, 0, 0, 0, 0.4, 5.5, 16.7, 10.9, 1.2, 0, 0, 0, 0, 0, 0],
  [null, 0, 0, 0, 0, 0, 0, 0, 0, 0, 0.4, 0, 0, 0, 1.3, 11.9, 8.6, 2.9, 0.3, 0, 0, 0, 0, 0, 0],
  [null, 0, 0, 0, 0, 0, 0, 0, 0, 0, 2.7, 0.1, 0, 0, 0.6, 4.0, 11.7, 14.2, 2.3, 0.1, 0, 0, 0, 0, 0],
  [null, 0, 0, 0, 0, 0, 0, 0, 0, 0, 0.5, 0, 0, 0, 0.2, 3.8, 19.4, 8.2, 0.9, 0, 0, 0, 0, 0, 0],
  [null, 0, 0, 0, 0, 0, 0, 0, 0, 0, 0.2, 0, 0, 0, 0.7, 13.5, 7.6, 2.4, 0.2, 0, 0, 0, 0, 0, 0],
  [null, 0, 0, 0, 0, 0, 0, 0, 0, 0, 0.7, 0, 0, 0, 0.4, 5.0, 12.5, 10.3, 1.2, 0, 0, 0, 0, 0, 0],
  [null, 0, 0, 0, 0, 0, 0, 0, 0, 0, 1.1, 0, 0, 0, 0.5, 4.6, 10.8, 7.3, 0.7, 0, 0, 0, 0, 0, 0],
  [null, 0, 0, 0, 0, 0, 0, 0, 0, 0, 0.6, 0, 0, 0, 0.3, 3.5, 9.2, 6.1, 0.6, 0, 0, 0, 0, 0, 0]
]

// legende des 50 perturbations
const perts = document.getElementById('perts')
for (let k = 0; k < 25; k++) {
  const x = 430 + 11 * k
  perts.insertAdjacentHTML('beforeend',
    `<div class="num" style="left:${x}px;top:634px">${String(k + 1).padStart(2, '0')}</div>` +
    `<div class="sq" style="left:${x}px;top:645px;background:${memberColors[k]}"></div>` +
    `<div class="sq" style="left:${x}px;top:651px;background:${memberColors[k + 25]}"></div>` +
    `<div class="num" style="left:${x}px;top:659px">${k + 26}</div>`)
}

function pts(arr) {
  return arr.map((v, i) => ({ x: hours[i], y: v }))
}

function serie(arr, color, width, axis, marks) {
  return {
    data: pts(arr),
    yAxisID: axis,
    borderColor: color,
    backgroundColor: color,
    borderWidth: width,
    pointRadius: marks ? 2 : 0,
    pointStyle: 'cross',
    pointBorderWidth: 1,
    pointBorderColor: color,
    tension: 0,
    fill: false
  }
}

const datasets = [
  serie(meanT850, '#ff0000', 5, 'y'),
  serie(meanT500, '#ff0000', 5, 'y'),
  serie(meanPrecip, '#ff0000', 5, 'yR'),
  serie(ctrlT850, '#0000ff', 3, 'y'),
  serie(ctrlT500, '#0000ff', 3, 'y'),
  serie(ctrlPrecip, '#0000ff', 3, 'yR'),
  serie(operT850, '#000000', 4, 'y'),
  serie(operT500, '#000000', 4, 'y'),
  serie(operPrecip, '#000000', 4, 'yR')
]
for (let k = 0; k < 50; k++) {
  datasets.push(serie(membersT850[k], memberColors[k], 1, 'y', true))
  datasets.push(serie(membersT500[k], memberColors[k], 1, 'y', true))
  datasets.push(serie(membersPrecip[k], memberColors[k], 1, 'yR', true))
}

Chart.defaults.font.family = "'DejaVu Sans Mono', monospace"
Chart.defaults.font.size = 10
Chart.defaults.color = '#000'

new Chart(document.getElementById('chart'), {
  type: 'line',
  data: { datasets },
  options: {
    responsive: false,
    animation: false,
    layout: { padding: 0, autoPadding: false },
    plugins: { legend: { display: false }, tooltip: { enabled: false } },
    scales: {
      x: {
        type: 'linear',
        min: 0,
        max: 144,
        afterBuildTicks: s => { s.ticks = dayTicks.map(v => ({ value: v })) },
        afterFit: s => { s.height = 100; s.paddingLeft = 0; s.paddingRight = 0 },
        ticks: {
          minRotation: 90,
          maxRotation: 90,
          labelOffset: 6,
          padding: 3,
          callback: v => dayLabels[dayTicks.indexOf(v)]
        },
        grid: { color: '#c0c0c0', lineWidth: 1, drawTicks: false },
        border: { color: '#000', width: 1 }
      },
      y: {
        position: 'left',
        min: -52.7,
        max: 33,
        afterBuildTicks: s => { s.ticks = leftTicks.map(v => ({ value: v })) },
        afterFit: s => { s.width = 50; s.paddingTop = 0; s.paddingBottom = 0 },
        ticks: { crossAlign: 'center', padding: 15 },
        grid: {
          drawTicks: false,
          color: c => c.tick && c.tick.value === 0 ? '#999999' : '#c0c0c0',
          lineWidth: c => !c.tick ? 1 : c.tick.value === 0 ? 3 : (c.tick.value % 10 === 0 ? 2 : 1)
        },
        border: { color: '#000', width: 1 }
      },
      yR: {
        position: 'right',
        min: -7.7,
        max: 78,
        afterBuildTicks: s => { s.ticks = rightTicks.map(v => ({ value: v })) },
        afterFit: s => { s.width = 50; s.paddingTop = 0; s.paddingBottom = 0 },
        ticks: { padding: 17 },
        grid: { display: false, drawTicks: false },
        border: { color: '#000', width: 1 }
      }
    }
  }
})
</script>
</body>
</html>
